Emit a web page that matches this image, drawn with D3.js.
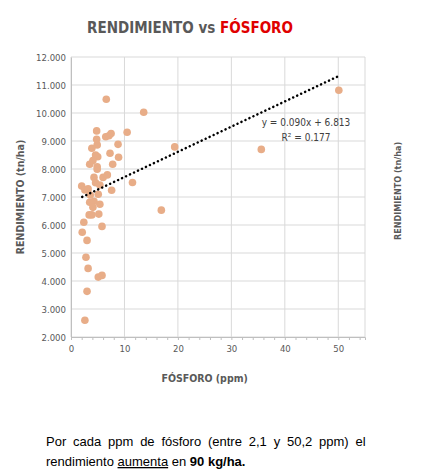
<!DOCTYPE html>
<html><head><meta charset="utf-8">
<script src="https://cdn.jsdelivr.net/npm/d3@7"></script>
<style>body{margin:0;background:#fff;overflow:hidden}</style>
</head><body><svg></svg>
<script>
const fosforo = [6.6,13.6,10.5,4.8,4.8,4.9,6.5,7.1,7.5,3.9,8.8,7.3,8.9,5.0,4.6,4.1,3.5,7.8,4.9,4.9,19.4,35.6,50.1,4.3,6.0,6.8,4.6,5.4,2.0,2.6,3.2,7.6,11.5,3.6,5.1,3.5,4.3,5.4,4.1,3.4,3.9,5.2,16.9,2.4,5.8,2.1,3.0,2.8,3.2,5.1,5.8,3.0,2.6];
const rendimiento = [10490,10025,9310,9360,9060,8860,9150,9190,9270,8740,8880,8560,8420,8440,8500,8300,8170,8170,8080,7990,8790,8700,10810,7700,7700,7790,7510,7430,7390,7250,7290,7240,7520,7070,7100,6810,6850,6740,6630,6360,6360,6390,6530,6100,5950,5740,5450,4850,4450,4140,4200,3630,2600];
const yTicks = [2000,3000,4000,5000,6000,7000,8000,9000,10000,11000,12000];
const xTicks = [0,10,20,30,40,50];
const slope = 0.090, intercept = 6.813, xMin = 2.1, xMax = 50.2;

const width = 423, height = 474;
const margin = { left: 71, right: 58, top: 57, bottom: 137 };
const svg = d3.select("svg").attr("width", width).attr("height", height);
const font = "'DejaVu Sans Condensed',sans-serif";

const x = d3.scaleLinear().domain([0, 55]).range([margin.left, width - margin.right]);
const y = d3.scaleLinear().domain([2000, 12000]).range([height - margin.bottom, margin.top]);

// grid
svg.append("g").selectAll("line").data(yTicks).join("line")
  .attr("x1", x(0)).attr("x2", x(55)).attr("y1", d => y(d)).attr("y2", d => y(d))
  .attr("stroke", "#d9d9d9");
svg.append("g").selectAll("line").data(xTicks.concat([55])).join("line")
  .attr("x1", d => x(d)).attr("x2", d => x(d)).attr("y1", y(2000)).attr("y2", y(12000))
  .attr("stroke", "#d9d9d9");

// axes
const fmt = d3.formatLocale({ decimal: ",", thousands: ".", grouping: [3] }).format(",d");
const yAxis = svg.append("g").attr("transform", `translate(${margin.left},0)`)
  .call(d3.axisLeft(y).tickValues(yTicks).tickSize(0).tickPadding(5).tickFormat(fmt));
yAxis.select(".domain").attr("stroke", "#bfbfbf");
const xAxis = svg.append("g").attr("transform", `translate(0,${y(2000)})`)
  .call(d3.axisBottom(x).tickValues(d3.range(0, 56, 2)).tickSize(3).tickPadding(5)
    .tickFormat(d => xTicks.includes(d) ? d : ""));
xAxis.select(".domain").attr("stroke", "#bfbfbf");
xAxis.selectAll(".tick line").attr("stroke", "#bfbfbf");
svg.selectAll(".tick text").attr("fill", "#595959").style("font-family", font).style("font-size", "9.5px");

// points
svg.append("g").selectAll("circle").data(fosforo).join("circle")
  .attr("cx", d => x(d)).attr("cy", (d, i) => y(rendimiento[i])).attr("r", 3.8)
  .attr("fill", "#e8ad88");

// trendline
svg.append("line")
  .attr("x1", x(xMin)).attr("y1", y((slope * xMin + intercept) * 1000))
  .attr("x2", x(xMax)).attr("y2", y((slope * xMax + intercept) * 1000))
  .attr("stroke", "#000").attr("stroke-width", 2.5).attr("stroke-dasharray", "0.1 4.3")
  .attr("stroke-linecap", "round");

svg.append("text").attr("x", 306).attr("y", 126).attr("text-anchor", "middle")
  .style("font-family", font).style("font-size", "10px").attr("fill", "#404040")
  .text("y = 0.090x + 6.813");
svg.append("text").attr("x", 306).attr("y", 141).attr("text-anchor", "middle")
  .style("font-family", font).style("font-size", "10px").attr("fill", "#404040")
  .text("R² = 0.177");

// title
const title = svg.append("text").attr("x", 190).attr("y", 33).attr("text-anchor", "middle")
  .style("font-family", font).style("font-size", "15px").style("font-weight", "bold");
title.append("tspan").attr("fill", "#595959").text("RENDIMIENTO vs ");
title.append("tspan").attr("fill", "#e00000").text("FÓSFORO");

// axis labels
svg.append("text").attr("transform", `translate(24,${y(7000)}) rotate(-90)`).attr("text-anchor", "middle")
  .style("font-family", font).style("font-size", "10.5px").style("font-weight", "bold").attr("fill", "#595959")
  .text("RENDIMIENTO (tn/ha)");
svg.append("text").attr("x", x(25)).attr("y", 382).attr("text-anchor", "middle")
  .style("font-family", font).style("font-size", "10.5px").style("font-weight", "bold").attr("fill", "#595959")
  .text("FÓSFORO (ppm)");
svg.append("text").attr("transform", `translate(401,240) rotate(-90)`)
  .style("font-family", font).style("font-size", "9px").style("font-weight", "bold").attr("fill", "#595959")
  .text("RENDIMIENTO (tn/ha)");

// caption
const cap = svg.append("g").style("font-family", "'Liberation Sans',Arial,sans-serif").style("font-size", "13px").attr("fill", "#000");
cap.append("text").attr("x", 46).attr("y", 446).style("word-spacing", "3.2px")
  .text("Por cada ppm de fósforo (entre 2,1 y 50,2 ppm) el");
const l2 = cap.append("text").attr("x", 46).attr("y", 466);
l2.append("tspan").text("rendimiento ");
l2.append("tspan").attr("text-decoration", "underline").text("aumenta");
l2.append("tspan").text(" en ");
l2.append("tspan").style("font-weight", "bold").text("90 kg/ha.");
</script>
</body></html>
